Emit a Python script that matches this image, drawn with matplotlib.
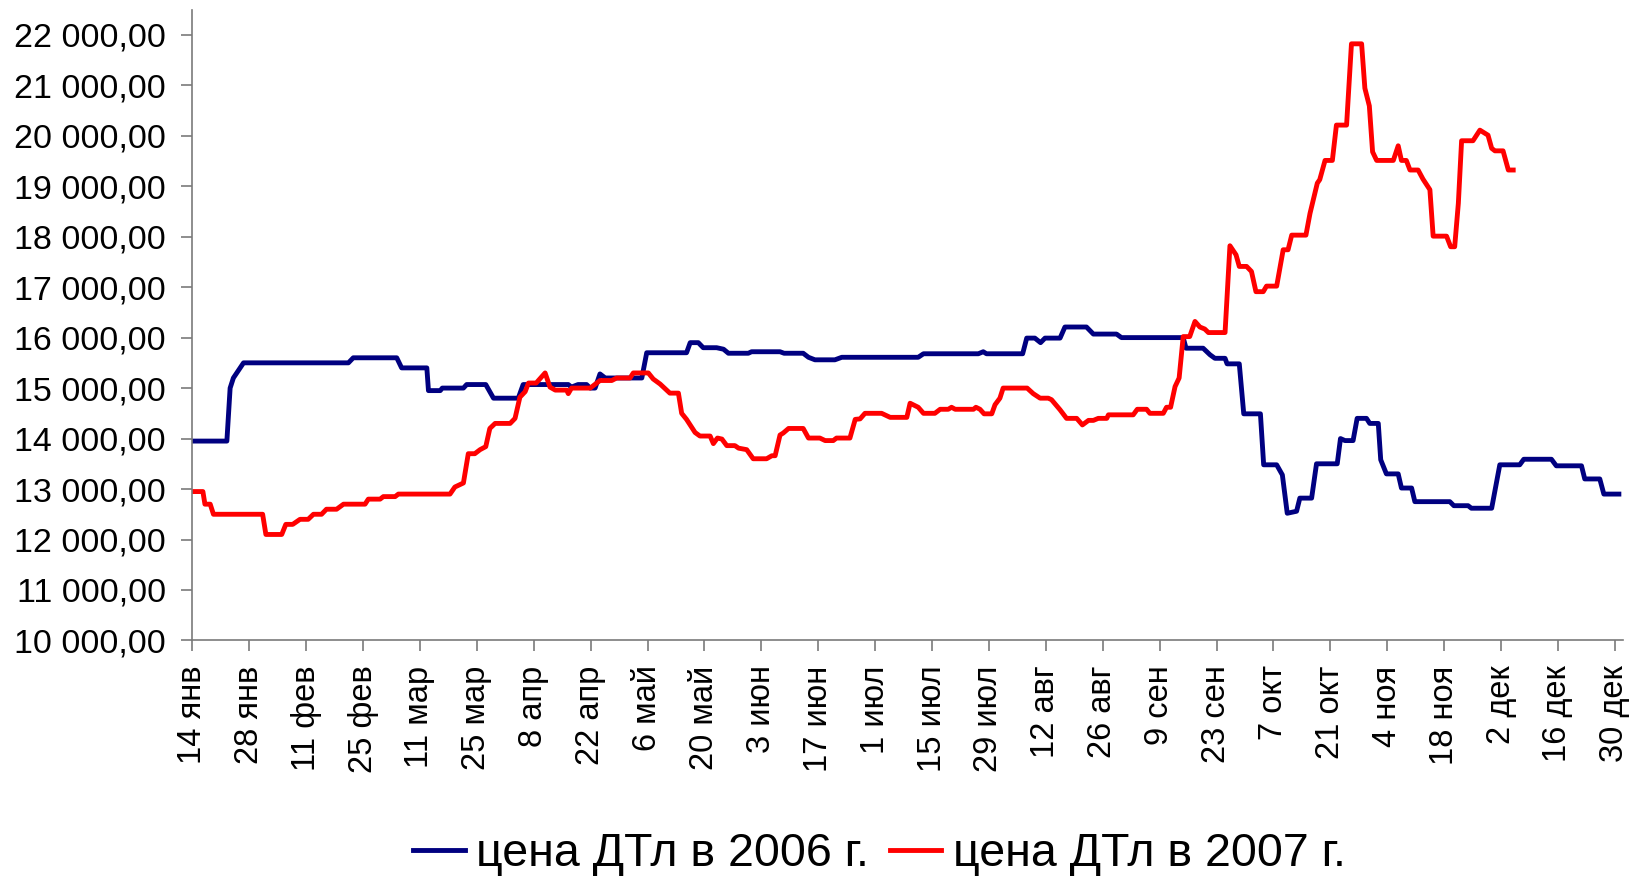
import matplotlib
matplotlib.use("Agg")
import matplotlib.pyplot as plt
from matplotlib.ticker import FuncFormatter, MultipleLocator
import numpy as np

plt.rcParams['font.family'] = ['Liberation Sans', 'DejaVu Sans']

# day offsets from 14 Jan, prices
days_2006 = [0, 8.5, 9.3, 10.1, 12.6, 38.4, 39.6, 50.3, 51.5, 57.7, 58.1, 61, 61.5, 66.7, 67.5,
             72.2, 74.1, 80.2, 81.4, 92.5, 93.3, 94.9, 97, 97.9, 99.1, 100.3, 101.6, 110.6, 111.8,
             121.6, 122.5, 124.5, 125.7, 129, 130.7, 131.9, 136.8, 137.6, 144.6, 145.6, 150.3,
             151.6, 153.2, 158.1, 159.8, 178.6, 179.9, 193.4, 194.6, 195.4, 204.3, 205.3, 207.3,
             208.7, 209.8, 213.5, 214.7, 220, 221.7, 227.4, 228.6, 243.8, 244.5, 248.7, 250.4,
             251.6, 254.1, 254.6, 257.6, 258.7, 262.8, 263.6, 266.8, 268.2, 269.4, 271.7, 272.5,
             275.4, 276.6, 281.7, 282.5, 283.6, 285.6, 286.6, 288.9, 289.7, 291.8, 292.4, 293.8,
             296.7, 297.5, 300, 300.8, 309.4, 310.4, 313.9, 314.7, 319.7, 321.7, 326.6, 327.6,
             334.4, 335.6, 341.8, 342.6, 346.3, 347.3, 351]
price_2006 = [13950, 13950, 15000, 15200, 15500, 15500, 15600, 15600, 15400, 15400, 14950, 14950,
              15000, 15000, 15070, 15070, 14800, 14800, 15070, 15070, 15020, 15070, 15070, 15000,
              15000, 15280, 15200, 15200, 15700, 15700, 15900, 15900, 15800, 15800, 15770, 15690,
              15690, 15720, 15720, 15690, 15690, 15610, 15560, 15560, 15610, 15610, 15680, 15680,
              15720, 15680, 15680, 15990, 15990, 15900, 15990, 15990, 16210, 16210, 16070, 16070,
              16000, 16000, 15790, 15790, 15660, 15590, 15590, 15480, 15480, 14490, 14490, 13480,
              13480, 13280, 12520, 12560, 12820, 12820, 13500, 13500, 14000, 13960, 13960, 14400,
              14400, 14300, 14300, 13580, 13300, 13300, 13020, 13020, 12750, 12750, 12670, 12670,
              12620, 12620, 13480, 13480, 13590, 13590, 13460, 13460, 13200, 13200, 12900, 12900]

days_2007 = [0, 2.6, 3.1, 4.4, 5.2, 17.3, 18.1, 22, 23, 24.7, 26.5, 28.5, 29.8, 31.8, 33, 35.5,
             37.2, 42.5, 43.3, 46.2, 47, 49.9, 50.7, 63.4, 64.6, 66.7, 67.9, 69.5, 70.8, 72.2,
             73.2, 74.5, 78.2, 79.4, 80.6, 81.9, 82.7, 84.6, 86.8, 88, 89.3, 92.1, 92.5, 93.3,
             97.9, 100.3, 103.2, 104.4, 107.7, 108.5, 112.2, 113.4, 115.1, 117.5, 119.6, 120.4,
             121.6, 123.7, 124.9, 127.4, 128.2, 129.2, 130.3, 131.5, 133.5, 134.4, 136.4, 138,
             141.3, 142.6, 143.4, 144.6, 145.4, 146.7, 150.3, 151.6, 154.4, 155.7, 157.7, 158.5,
             161.8, 163.1, 164.3, 165.5, 169.6, 171.7, 175.8, 176.6, 178.6, 179.9, 182.7, 184,
             186, 186.8, 187.7, 192.2, 192.8, 193.8, 194.8, 196.7, 197.5, 198.7, 199.5, 205.4,
             206.9, 208.6, 210.6, 211.4, 213.5, 215.1, 217.6, 219, 220.5, 221.7, 222.9, 225,
             225.4, 231.5, 232.5, 234.8, 235.6, 238.9, 239.7, 240.7, 241.8, 242.8, 243.8, 245.4,
             246.7, 247.9, 249.1, 250, 254.1, 255.3, 256.8, 257.6, 259.4, 260.6, 261.7, 263.5,
             264.3, 266.8, 268.4, 269.6, 270.5, 274, 275, 276.8, 277.4, 278.7, 280.5, 281.5, 284,
             285.2, 287.7, 288.5, 289.6, 290.4, 291.4, 295.5, 296.7, 297.5, 298.7, 299.6, 301.6,
             302.8, 304.5, 305.3, 308.6, 309.6, 310.6, 311.5, 312.3, 315.1, 316.8, 318.8, 319.7,
             320.5, 322.5, 323.8, 325]
price_2007 = [12950, 12950, 12700, 12700, 12500, 12500, 12100, 12100, 12300, 12300, 12400, 12400,
              12500, 12500, 12600, 12600, 12700, 12700, 12800, 12800, 12850, 12850, 12900, 12900,
              13040, 13120, 13700, 13700, 13780, 13840, 14200, 14300, 14300, 14400, 14820, 14930,
              15100, 15100, 15300, 15020, 14960, 14960, 14890, 15000, 15000, 15150, 15150, 15200,
              15200, 15300, 15300, 15180, 15080, 14900, 14900, 14500, 14380, 14120, 14050, 14050,
              13900, 14010, 13990, 13860, 13860, 13810, 13780, 13600, 13600, 13660, 13660, 14070,
              14110, 14200, 14200, 14010, 14010, 13960, 13960, 14010, 14010, 14380, 14390, 14500,
              14500, 14420, 14420, 14700, 14620, 14500, 14500, 14580, 14580, 14620, 14580, 14580,
              14620, 14580, 14490, 14490, 14670, 14800, 15000, 15000, 14890, 14800, 14800, 14770,
              14570, 14400, 14400, 14270, 14360, 14360, 14400, 14400, 14470, 14470, 14580, 14580,
              14500, 14500, 14620, 14620, 15030, 15200, 16020, 16020, 16320, 16210, 16170, 16100,
              16100, 17820, 17640, 17410, 17410, 17310, 16910, 16910, 17020, 17020, 17740, 17740,
              18030, 18030, 18460, 19060, 19130, 19510, 19510, 20210, 20210, 21820, 21820, 20940,
              20590, 19680, 19510, 19510, 19800, 19510, 19510, 19320, 19320, 19140, 18930, 18010,
              18010, 17800, 17800, 18660, 19900, 19900, 20110, 20010, 19750, 19700, 19700, 19320,
              19320]

tick_labels = ['14 янв', '28 янв', '11 фев', '25 фев', '11 мар', '25 мар', '8 апр', '22 апр',
               '6 май', '20 май', '3 июн', '17 июн', '1 июл', '15 июл', '29 июл', '12 авг',
               '26 авг', '9 сен', '23 сен', '7 окт', '21 окт', '4 ноя', '18 ноя', '2 дек',
               '16 дек', '30 дек']

fig = plt.figure(figsize=(16.41, 8.8), dpi=100)
ax = fig.add_axes([0.1172, 0.2722, 0.8718, 0.717])

ax.plot(days_2006, price_2006, color='#000080', lw=3.5, label='цена ДТл в 2006 г.')
ax.plot(days_2007, price_2007, color='#FF0000', lw=3.5, label='цена ДТл в 2007 г.')

ax.set_xlim(0, 352)
ax.set_ylim(10000, 22500)
ax.set_xticks(np.arange(len(tick_labels)) * 14)
ax.set_xticklabels(tick_labels, rotation=90, va='top', ha='center')
ax.yaxis.set_major_locator(MultipleLocator(1000))


def rus_fmt(v, pos):
    return f"{v:,.2f}".replace(",", " ").replace(".", ",")


ax.yaxis.set_major_formatter(FuncFormatter(rus_fmt))
ax.tick_params(axis='both', length=8, width=1.2, color='#7a7a7a', direction='out')
ax.tick_params(axis='x', labelsize=23.5, pad=10)
ax.tick_params(axis='y', labelsize=24.5, pad=11)

for s in ['top', 'right']:
    ax.spines[s].set_visible(False)
for s in ['left', 'bottom']:
    ax.spines[s].set_color('#7a7a7a')
    ax.spines[s].set_linewidth(1.2)

fig.legend(loc='center', bbox_to_anchor=(0.536, 0.029), ncol=2, frameon=False, fontsize=33.5,
           handlelength=1.1, handletextpad=0.25, columnspacing=0.45)

fig.savefig('out.png', dpi=100)
